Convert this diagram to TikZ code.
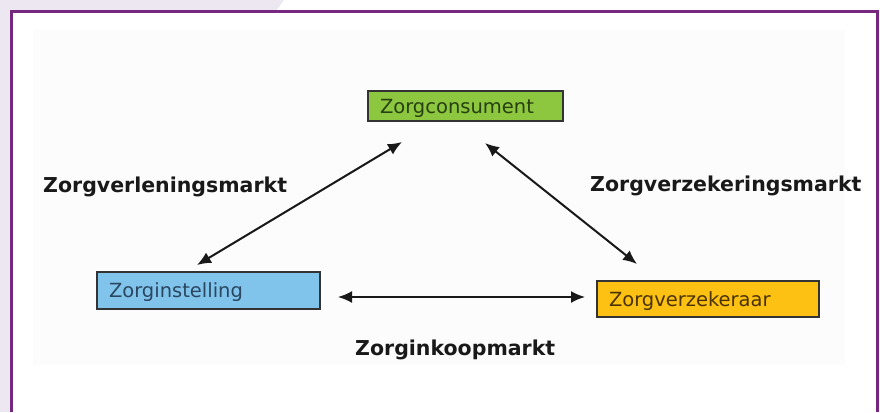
\documentclass[tikz,border=0pt]{standalone}
\usepackage{fontspec}
\setmainfont{DejaVu Sans}
\usepackage{tikz}
\usetikzlibrary{arrows.meta,positioning}
\definecolor{framepurple}{RGB}{118,40,128}
\definecolor{bglavender}{RGB}{237,231,241}
\definecolor{panelgray}{RGB}{252,252,252}
\definecolor{consgreen}{RGB}{141,198,63}
\definecolor{instblue}{RGB}{128,196,236}
\definecolor{verzyellow}{RGB}{253,193,20}
\definecolor{consink}{RGB}{38,64,16}
\definecolor{instink}{RGB}{42,70,96}
\definecolor{verzink}{RGB}{74,51,0}

\begin{document}
\begin{tikzpicture}[
    x=1pt, y=-1pt,
    party/.style={rectangle, draw=black!80, line width=1.8pt, inner xsep=12pt, inner ysep=0pt, align=left, text depth=0pt, font=\fontsize{19.5}{22}\selectfont},
    cons/.style={party, fill=consgreen, text=consink, minimum width=195pt, minimum height=30pt, text width=171pt},
    inst/.style={party, fill=instblue, text=instink, minimum width=223pt, minimum height=37pt, text width=199pt},
    verz/.style={party, fill=verzyellow, text=verzink, minimum width=222pt, minimum height=36pt, text width=198pt},
    market/.style={{Latex[length=14pt,width=12pt]}-{Latex[length=14pt,width=12pt]}, line width=2pt, black!90},
    mlab/.style={font=\fontsize{20.5}{24}\bfseries\selectfont, text=black!90, inner sep=0pt, anchor=base west},
    frame/.style={draw=framepurple, line width=3pt}
]
\useasboundingbox (0,0) rectangle (880,412);

% ============ background ============
\fill[bglavender] (0,0) -- (284,0) -- (276,11) -- (0,11) -- cycle;
\fill[bglavender] (0,0) rectangle (11,412);
\fill[panelgray] (33,30) rectangle (845,365);
\draw[frame] (11.5,412) -- (11.5,11.5) -- (877,11.5) -- (877,412);

% ============ parties ============
\node[cons] (consument) at (465.5,106) {Zorgconsument};
\node[inst] (instelling) at (208.5,290.5) {Zorginstelling};
\node[verz] (verzekeraar) at (708,299) {Zorgverzekeraar};

% ============ markets ============
\node[mlab] (verlening) at (43,192) {Zorgverleningsmarkt};
\node[mlab] (verzekering) at (590,191) {Zorgverzekeringsmarkt};
\node[mlab] (inkoop) at (355,355) {Zorginkoopmarkt};

\coordinate (vl-top) at (402,142);
\coordinate (vl-bot) at (197,265);
\coordinate (vz-top) at (485,143);
\coordinate (vz-bot) at (637,264);
\coordinate (ik-left) at (338,297);
\coordinate (ik-right) at (585,297);

\draw[market] (vl-top) -- (vl-bot);
\draw[market] (vz-top) -- (vz-bot);
\draw[market] (ik-left) -- (ik-right);

\end{tikzpicture}
\end{document}
